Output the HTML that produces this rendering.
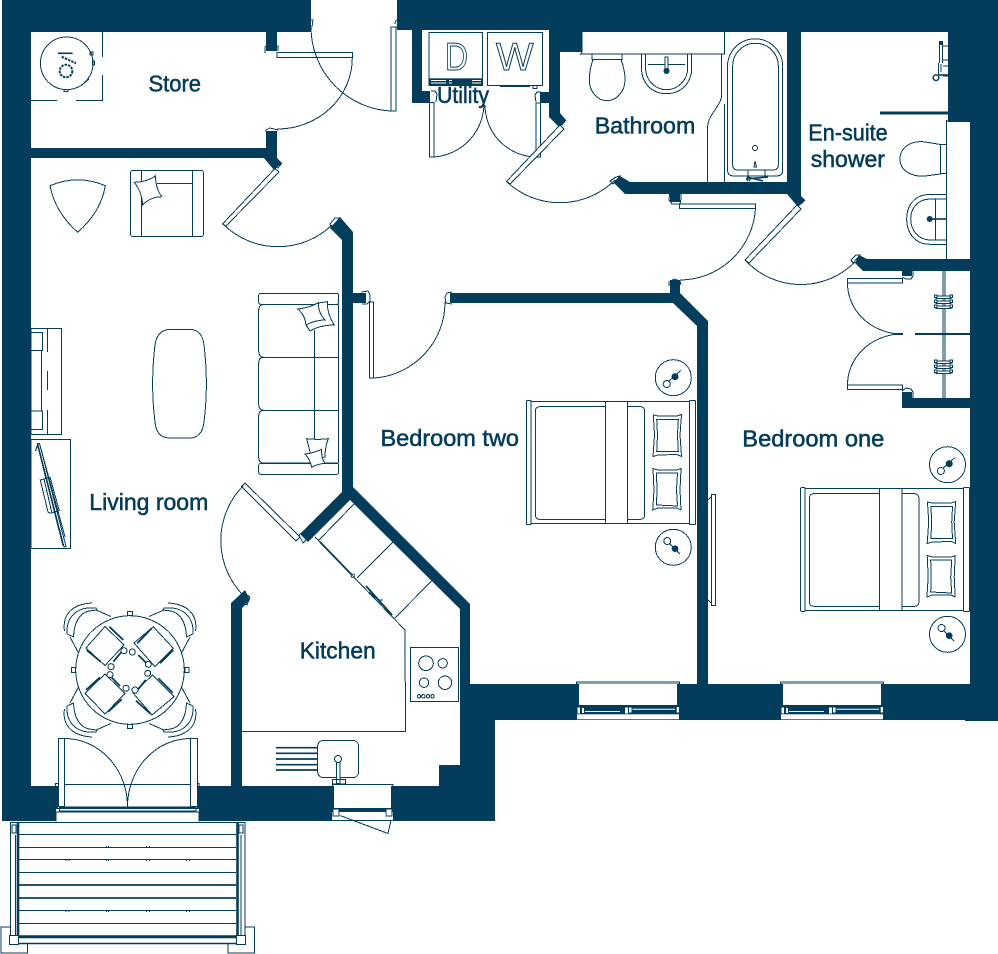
<!DOCTYPE html>
<html><head><meta charset="utf-8"><style>
html,body{margin:0;padding:0;background:#fff}
svg{display:block}
.w{fill:#043c5b;stroke:none}
.l{fill:none;stroke:#043c5b;stroke-width:1;shape-rendering:crispEdges}
.f{fill:#fff;stroke:#043c5b;stroke-width:1;shape-rendering:crispEdges}
.t{fill:#043c5b;stroke:#043c5b;stroke-width:.55;font-family:"Liberation Sans",sans-serif;font-size:23.5px}
.d{fill:#043c5b;stroke:none}
</style></head><body>
<svg width="998" height="954" viewBox="0 0 998 954" xmlns="http://www.w3.org/2000/svg">
<defs>
<g id="bed">
<rect class="f" x="531" y="401.3" width="158.3" height="122"/>
<rect class="f" x="526.5" y="400.5" width="4.5" height="124" rx="1"/>
<rect class="f" x="689.3" y="400.5" width="6.2" height="124" rx="1"/>
<rect class="f" x="535.3" y="406.7" width="109.4" height="112.6" rx="4"/>
<rect class="f" x="605.3" y="401.3" width="22.4" height="122"/>
<path class="l" d="M653.3,415 L658,416 L677,416 L681.5,414.5 L680,435 L681.5,456.5 L677,454.5 L658,455 L653,456.5 L654.5,435Z"/>
<path class="l" d="M656.7,419.5 L678.3,419.5 L677.5,435 L678.3,451.5 L656.7,451.5 L657.5,435Z"/>
<path class="l" d="M653,468.5 L658,470 L677,470 L681,468.5 L680,490 L681,510 L677,508 L658,508 L652.7,510 L654,490Z"/>
<path class="l" d="M656.5,473 L677.5,473 L676.5,490 L677.5,506 L656.5,505 L657,490Z"/>
<circle class="l" cx="673.3" cy="377.7" r="18"/>
<circle class="l" cx="666.7" cy="384" r="3.5"/>
<circle class="d" cx="675" cy="376.7" r="3.5"/>
<path class="l" d="M668.5,381.5 L680.7,370.5" stroke-width="1.5"/>
<circle class="l" cx="673.3" cy="547.3" r="18"/>
<circle class="l" cx="667.3" cy="541" r="3.5"/>
<circle class="d" cx="675" cy="548.7" r="3.3"/>
<path class="l" d="M669.5,543.5 L680,554" stroke-width="1.5"/>
</g>
<g id="win">
<rect x="576.5" y="682" width="103" height="2" class="f"/>
<rect x="579" y="684" width="98" height="21" fill="#fff"/>
<rect x="577" y="714.3" width="102" height="5" fill="#fff"/>
<rect x="577.5" y="707.5" width="2.5" height="6" fill="#fff"/>
<rect x="582" y="708" width="2" height="5" fill="#fff"/>
<rect x="625" y="707.5" width="3" height="6" fill="#fff"/>
<rect x="629" y="707.5" width="2.5" height="5" fill="#fff"/>
<rect x="676.7" y="707" width="2.3" height="5.5" fill="#fff"/>
<path d="M585,711.5 L620,711.5 M632.5,709.3 L675,709.3" stroke="#fff" stroke-width="1" fill="none"/>
</g>
<path id="chair" class="l" d="M64.5,631 C62,615 72,604 92,603 M67,634 C66,618 76,606 96,608 L97,610 L89,611 C80,613 74,622 73.5,637 L67,634 M70,637 L78.5,653 M96,610 L111,616.5"/>
<g id="hang">
<rect class="f" x="936" y="0" width="15" height="2.5"/><rect class="f" x="934.5" y="-1" width="2.5" height="2.5"/><rect class="f" x="950" y="-1" width="2.5" height="2.5"/>
</g>
</defs>

<!-- walls -->
<rect class="w" x="2" y="0" width="309" height="32"/>
<rect class="w" x="2" y="0" width="29" height="821"/>
<rect class="w" x="2" y="786" width="493" height="35"/>
<rect class="w" x="266" y="32" width="11" height="19"/>
<rect class="w" x="266" y="131" width="11" height="30"/>
<rect class="w" x="31" y="148" width="240" height="10"/>
<polygon class="w" points="264,158 277,158 282,163 274,170"/>
<rect class="w" x="397" y="0" width="601" height="30"/>
<rect class="w" x="549" y="28" width="449" height="4"/>
<rect class="w" x="412" y="29" width="10" height="74"/>
<rect class="w" x="412" y="91" width="18" height="12"/>
<polygon class="w" points="549,30 582,30 582,52 560,52 560,113 566,120 559,127 549,117"/>
<rect class="w" x="540" y="92" width="9" height="11"/>
<rect class="w" x="787" y="30" width="14" height="155"/>
<polygon class="w" points="620,176 630,182 787,182 801,182 801,196 805,200 798,207 787,194 625,194 614,183"/>
<rect class="w" x="670" y="194" width="10" height="8"/>
<rect class="w" x="948" y="0" width="50" height="122"/>
<rect class="w" x="970" y="0" width="28" height="721"/>
<rect class="w" x="965" y="684" width="33" height="37"/>
<polygon class="w" points="855,263 859,255 867,259 970,259 970,271 863,271"/>
<rect class="w" x="902" y="271" width="10" height="5"/>
<rect class="w" x="902" y="398" width="68" height="10"/>
<rect class="w" x="902" y="392" width="10" height="6"/>
<polygon class="w" points="330,228 340,217 353,232 353,487 470,604 470,690 460,690 460,609 350,500 308,542 300,534 342,492 342,240"/>
<rect class="w" x="353" y="293" width="13" height="10"/>
<polygon class="w" points="450,293 670,293 670,280 680,280 680,293 708,321 708,690 697,690 697,326 673,303 450,303"/>
<rect class="w" x="460" y="684" width="538" height="36"/>
<rect class="w" x="460" y="720" width="35" height="70"/>
<rect class="w" x="439" y="765" width="22" height="22"/>
<polygon class="w" points="231,603 245,590 250,600 242,608 242,790 231,790"/>

<!-- openings -->
<rect x="58" y="786" width="139" height="22" fill="#fff"/>
<rect x="56" y="809" width="143" height="13" fill="#fff"/>
<rect x="334" y="786" width="57" height="22" fill="#fff"/>
<rect x="332" y="812" width="61" height="8" fill="#fff"/>
<use href="#win"/>
<use href="#win" x="204"/>

<!-- kitchen window -->
<path class="l" d="M332.5,787 L332.5,784.5 L393,784.5 L393,787"/>
<rect x="333" y="809" width="6" height="7" class="f"/>
<rect x="386" y="809" width="6" height="7" class="f"/>
<path class="l" d="M340,815.5 L388,833.5 L391,820"/>
<path d="M340,815 L386,815" stroke="#fff" stroke-width="1"/>

<!-- living doors & threshold -->
<rect class="f" x="58.5" y="738.5" width="5.8" height="68"/>
<rect class="f" x="190.5" y="738.5" width="7" height="68"/>
<path class="l" d="M64.3,738.5 A63,68 0 0 1 127.5,806.5 M190.5,738.5 A63,68 0 0 0 127.5,806.5 M64,784.4 L190.5,784.4 M55.5,786 L55.5,783.5 L58,783.5 M199,786 L199,783.5 L197.5,783.5"/>
<path class="l" d="M59.5,807.5 L196,807.5 L196,811 L59.5,811Z M56,821.5 L56,812 L199,812 L199,821.5 M64.3,807 L190.5,807"/>

<!-- balcony -->
<path class="l" d="M19,822.7 L236,822.7 M10.7,935 L10.7,822.7 L19,822.7 M245,935 L245,822.7 L236,822.7"/>
<path d="M18,823 L18,936 M237.5,823 L237.5,936" stroke="#043c5b" stroke-width="2.6" fill="none"/>
<path d="M15.6,835 L15.6,936 M241,835 L241,936" stroke="#043c5b" stroke-width="1" fill="none" shape-rendering="crispEdges"/>
<rect class="f" x="12" y="825" width="4" height="8"/>
<rect class="f" x="239" y="825" width="4" height="8"/>
<path class="l" d="M19,834.7 L236,834.7 M19,847.5 L236,847.5 M19,859.5 L236,859.5 M19,872.7 L236,872.7 M19,910.7 L236,910.7 M19,923.3 L236,923.3"/>
<path d="M19,885 L236,885 M19,898 L236,898" stroke="#043c5b" stroke-width="1.7"/>
<path d="M19,936.7 L236,936.7" stroke="#043c5b" stroke-width="3"/>
<path d="M19,943.5 L236,943.5" stroke="#043c5b" stroke-width="1.6"/>
<rect class="f" x="9.5" y="935.7" width="9" height="8.6"/>
<rect class="f" x="236.7" y="935.7" width="9" height="8.6"/>
<path class="l" d="M10,927 L1,927 L1,953 L27.5,953 L27.5,944 M228,944 L228,953 L254.5,953 L254.5,927 L245,927"/>
<g class="d">
<rect x="106" y="846" width="1" height="1.5"/><rect x="108" y="846" width="1" height="1.5"/><rect x="146" y="846" width="1" height="1.5"/><rect x="149" y="846" width="1" height="1.5"/>
<rect x="65.5" y="859.5" width="1" height="1.5"/><rect x="68.5" y="859.5" width="1" height="1.5"/><rect x="106" y="859.5" width="1" height="1.5"/><rect x="108" y="859.5" width="1" height="1.5"/><rect x="146" y="859.5" width="1" height="1.5"/><rect x="149" y="859.5" width="1" height="1.5"/><rect x="186" y="859.5" width="1" height="1.5"/><rect x="189" y="859.5" width="1" height="1.5"/>
<rect x="65.5" y="910.5" width="1" height="1.5"/><rect x="68.5" y="910.5" width="1" height="1.5"/><rect x="106" y="910.5" width="1" height="1.5"/><rect x="108" y="910.5" width="1" height="1.5"/><rect x="146" y="910.5" width="1" height="1.5"/><rect x="149" y="910.5" width="1" height="1.5"/><rect x="186" y="910.5" width="1" height="1.5"/><rect x="189" y="910.5" width="1" height="1.5"/>
</g>

<!-- doors -->
<rect class="f" x="277" y="52.7" width="75.5" height="5"/>
<path class="l" d="M352.3,58 A75,71 0 0 1 277,129"/>
<rect class="f" x="391" y="27" width="5" height="84"/>
<path class="l" d="M311,28 A84,84 0 0 0 391,111"/>
<polygon class="f" points="275,168.5 279,172 226,226 222.5,224"/>
<path class="l" d="M223,224 A78,78 0 0 0 332,225"/>
<rect class="f" x="369.5" y="302" width="4" height="76"/>
<path class="l" d="M374,378 A76,76 0 0 0 445,302"/>
<rect class="f" x="429.5" y="102.7" width="4.5" height="54.3"/>
<path class="l" d="M434,157 A54,54 0 0 0 484,104"/>
<rect class="f" x="536" y="103" width="4.7" height="54"/>
<path class="l" d="M536,157 A52,52 0 0 1 485,105"/>
<polygon class="f" points="560,125 564,129 510,184 506.5,181.5"/>
<path class="l" d="M507,182 A78,78 0 0 0 615,180"/>
<rect class="f" x="679.7" y="204" width="76" height="4.5"/>
<path class="l" d="M755.5,208 A76,76 0 0 1 680,280"/>
<polygon class="f" points="797,205 801,209 749,263 745,260"/>
<path class="l" d="M745,260 A76,76 0 0 0 855,262"/>
<rect class="f" x="847.5" y="278.3" width="55" height="4.5"/>
<rect class="f" x="847.5" y="385" width="55" height="4.5"/>
<path class="l" d="M847.5,283 A55,51 0 0 0 899,334 A55,51 0 0 0 847.5,385"/>
<polygon class="f" points="241.5,486.5 245,483 300,537 296,541"/>
<path class="l" d="M243,486 A78,78 0 0 0 245,597"/>
<!-- jambs -->
<path class="l" d="M265,53 L265,47 L268,45 L278,46 L278,51 M266,132 L266,130 L270,128 L278,130 M312,28 L308,28 M312,27 L313,20 L309,20 L308.5,26 M395,27 L398,27 L398,20 L395.5,21 L395,24 M361.5,292 L368,291 L370,295 L370,301 L367,304 L362,304 M452,292 L447,293 L445,297 L446,303 L452,304 M431,91 L435,91 L437,94 L436,102 M541,92 L537,92 L535,95 L536,102 M669.5,194 L669,200 L672,204 L680,204 L681,199 L681,194 M669,286 L669,282 L674,279 L680,281 L681,285 M902,277 L906,279 L911,279 L913,276 L913,271 M902,391 L906,388 L911,389 L913,392 L913,398 M240,602 L244,593 L250,597 L247,605 Z M299,535 L303,532 L308,538 L303,543 Z M335,218 L340,218 L331,228 L330,224 Z M282,163 L278,168 L272,165 M616,177 L620,176 L613,184 L610,181Z M566,120 L562,125 L558,122 M805,200 L801,204 L796,201 M856,255 L860,255 L853,263 L851,260Z"/>

<!-- kitchen units -->
<path class="l" d="M315,537 L405,630 L405.5,731.7 L242,731.7 M319,540 L354,504 M357,578 L393,542 M395,618 L431.5,581"/>
<path d="M320,542 L352,575 M366,586 L392,615" stroke="#043c5b" stroke-width="1.8" fill="none"/>
<circle class="l" cx="353" cy="576" r="1.8"/>
<path class="l" d="M369,592 L378,600 L383,600" stroke-width="1.2"/>
<rect class="l" x="410.3" y="647.3" width="48.4" height="54.4" rx="1"/>
<circle class="l" cx="426" cy="663.3" r="7.3"/><circle class="l" cx="442.7" cy="663.3" r="4.7"/>
<circle class="l" cx="424" cy="682.7" r="4.7"/><circle class="l" cx="445" cy="682.7" r="6.7"/>
<circle class="l" cx="419" cy="696.3" r="1.7"/><circle class="l" cx="423.3" cy="696.3" r="1.7"/><circle class="l" cx="428" cy="696.3" r="1.7"/><circle class="l" cx="432.5" cy="696.3" r="1.7"/>
<rect class="l" x="317.7" y="740.3" width="41" height="37.4" rx="6"/>
<path d="M276,747.7 L318,747.7 M276,753.3 L318,753.3 M276,759 L318,759 M276,764.7 L318,764.7 M276,770 L318,770" stroke="#043c5b" stroke-width="1.7"/>
<circle class="f" cx="338" cy="759" r="3.5"/>
<rect class="f" x="336.5" y="762.5" width="3.5" height="21"/>
<rect class="l" x="332.5" y="779.5" width="13" height="4.5"/>

<!-- living furniture -->
<rect class="l" x="130.7" y="170.3" width="72.6" height="66.4" rx="2"/>
<path class="l" d="M141.7,170.3 L141.7,236.7 M192.3,170.3 L192.3,236.7 M157,183.7 L192.3,183.7"/>
<path class="f" d="M134.3,182.3 Q147,182 155.7,175.7 Q155,187 161.7,196.7 Q150,197 142.7,205 Q142,192 134.3,182.3Z"/>
<path class="l" d="M50,185.7 Q77.7,174 105.3,185.7 Q101,212 77.7,232.3 Q55,212 50,185.7Z"/>
<circle class="l" cx="66.7" cy="63.3" r="26.3"/>
<path class="l" d="M31,100.3 L57,100.3 M76,100.3 L102.7,100.3 L102.7,75 M102.7,57 L102.7,32"/>
<path d="M58,53.3 L72.7,53.3" stroke="#043c5b" stroke-width="1.6"/>
<path d="M61.7,56.7 L76,63.3" stroke="#043c5b" stroke-width="2" stroke-dasharray="2.5 1"/>
<circle cx="66" cy="71" r="6.3" fill="none" stroke="#043c5b" stroke-width="2" stroke-dasharray="2.5 1"/>
<rect class="l" x="90" y="52" width="3" height="3"/><rect class="l" x="92.5" y="61" width="2" height="4"/><rect class="l" x="64" y="89.5" width="4" height="2"/>
<path class="l" d="M82,85 L89,79"/>

<rect class="l" x="258.7" y="293.3" width="80" height="11" rx="2"/>
<rect class="l" x="258.7" y="463.3" width="80" height="11" rx="2"/>
<path class="l" d="M338.7,304.5 L264,304.5 Q258.7,304.5 258.7,310 L258.7,351 Q258.7,357.3 264,357.3 L338.7,357.3 M264,357.3 Q258.7,357.3 258.7,363 L258.7,404 Q258.7,410.3 264,410.3 L338.7,410.3 M264,410.3 Q258.7,410.3 258.7,416 L258.7,457 Q258.7,463 264,463 L338.7,463 M338.7,304.5 L338.7,463 M314.7,330 L314.7,440"/>
<path class="f" d="M318.3,303 L327.3,301.7 Q327,314 334.3,325 Q320,325 310,331 L306,325Z"/>
<path class="f" d="M297.7,309 Q309,308 318.3,302.7 Q318,312 325,320 Q315,320 306,325 Q305,315 297.7,309Z"/>
<path class="f" d="M306.7,438.7 Q318,440 328.3,438.7 Q325,447 325,457 L312,460 Q309,448 306.7,438.7Z"/>
<path class="f" d="M305,454 Q314,453 321.7,449.3 Q321,458 325,463.3 Q317,464 311.7,467.3 Q310,459 305,454Z"/>
<path class="l" d="M170,329.5 L190,329.5 C200,329.5 203,337 204,345 C207,370 207,398 204,422 C203,432 198,438 190,438 L170,438 C160,438 156,432 155,422 C152,398 152,370 155,345 C156,337 160,329.5 170,329.5Z"/>
<rect class="l" x="31" y="328.3" width="30.7" height="106"/>
<path class="l" d="M47.3,328.3 L47.3,352 M47.3,371 L47.3,390 M47.3,410 L47.3,434.3 M31,332.3 L42.7,332.3 L42.7,350.7 L31,350.7 M31,411 L42.7,411 L42.7,429.3 L31,429.3 M41.7,350.7 L41.7,411"/>
<rect class="l" x="31" y="439.3" width="39.7" height="109"/>
<path class="l" d="M37.7,443.5 L39.5,443.5 L66,546.5 L64,547 Z M35.5,451 L37.5,445 L63,546 M39.5,443.5 L65,537"/>
<path class="l" d="M40.3,480 L44,479 L50,477.3 L59.3,510.7 L50,513.3 L48,512 Z M44,479 L52,513"/>

<!-- table -->
<circle class="l" cx="130" cy="670" r="54.3"/>
<rect class="f" x="127.5" y="611.5" width="5" height="4"/><rect class="f" x="127.5" y="724.5" width="5" height="4"/>
<rect class="f" x="71.5" y="667.5" width="4" height="5"/><rect class="f" x="185" y="667.5" width="4" height="5"/>
<use href="#chair"/>
<use href="#chair" transform="matrix(-1 0 0 1 260 0)"/>
<use href="#chair" transform="matrix(1 0 0 -1 0 1340)"/>
<use href="#chair" transform="matrix(-1 0 0 -1 260 1340)"/>
<path class="l" d="M105,626.5 L124,645 L105,665.5 L86,648Z M153.3,626.7 L173.3,648.3 L155,666.7 L134,643Z M105,674 L125,693.3 L105,714 L85,693.3Z M152.7,675 L174,696.7 L152,715 L133,693Z"/>
<path d="M109.3,626.7 L123.3,640 M86.7,650 L100.7,661.7 M113.3,661.7 L121.7,651.7 M137.3,643.3 L151.7,628.3 M160,663.3 L173.3,650 M138.3,655 L150,666.7 M86,690 L100,677.3 M108.3,711.7 L121.7,699.3 M108.3,674 L120,686 M135,693.3 L145.7,680 M158.3,678.3 L172.7,692.7 M136,700.7 L150.7,714" stroke="#043c5b" stroke-width="1.8" fill="none"/>
<circle class="f" cx="124" cy="650.7" r="3"/><circle class="f" cx="132.3" cy="652" r="3"/><circle class="f" cx="111" cy="666.7" r="3"/><circle class="f" cx="148.3" cy="664.3" r="3"/><circle class="f" cx="110" cy="674.7" r="3"/><circle class="f" cx="147.7" cy="673.3" r="3"/><circle class="f" cx="126" cy="688.3" r="3"/><circle class="f" cx="135" cy="690" r="3"/>

<!-- bedrooms -->
<use href="#bed"/>
<use href="#bed" x="274.2" y="87"/>
<rect class="f" x="711.3" y="494.3" width="4.4" height="111.4"/>
<path class="l" d="M708,500 L711,497 M708,600 L711,603"/>

<!-- utility -->
<rect class="f" x="429" y="32.3" width="53.7" height="53.4"/>
<rect class="d" x="429" y="78.3" width="53.7" height="7.4"/>
<path d="M431,80.5 L446,80.5 M449,80.5 L452,80.5 M472,80.5 L481,80.5 M431,83 L446,83 M449,83 L452,83 M472,83 L481,83" stroke="#fff" stroke-width=".9"/>
<rect class="f" x="487.3" y="32.3" width="55.4" height="53.4"/>
<path class="l" d="M500,86.5 L530,86.5 M533,86 L533,88.5 L537,88.5 L537,86"/>
<text x="445" y="70" font-family="Liberation Sans,sans-serif" font-size="39" fill="#fff" stroke="#043c5b" stroke-width="1" textLength="23" lengthAdjust="spacingAndGlyphs">D</text>
<text x="496" y="70" font-family="Liberation Sans,sans-serif" font-size="39" fill="#fff" stroke="#043c5b" stroke-width="1" textLength="37.5" lengthAdjust="spacingAndGlyphs">W</text>

<!-- bathroom -->
<path class="l" d="M582,32 L582,52 L580.5,54 L724.7,54 L724.7,32"/>
<path class="l" d="M592,54 L592,60 M622,54 L622,60 M593,59.5 L621,59.5 Q625,70 625,80 C625,92 616,100.7 607,100.7 C598,100.7 589.3,92 589.3,80 Q589.3,70 593,59.5Z"/>
<path class="l" d="M641.5,54 L641.5,68 C641.5,83 652,93.7 666.5,93.7 C681,93.7 691.7,83 691.7,68 L691.7,54 M645.5,54 L645.5,68 C645.5,80 655,89.7 666.5,89.7 C678,89.7 687.7,80 687.7,68 L687.7,54 M648,64.7 L685,64.7"/>
<rect class="f" x="665" y="57" width="3" height="12"/>
<circle class="d" cx="666.5" cy="71" r="3"/>
<path class="l" d="M721.7,54 L721.7,95 C721.7,105 708,115 707.7,126 L707.7,182 M724.5,104 L724.5,182"/>
<path class="l" d="M727.5,66.4 A27.6,27.6 0 0 1 782.7,66.4 L782.7,170 Q782.7,176 776,176 L734,176 Q727.5,176 727.5,170Z"/>
<path class="l" d="M732.7,66 A22.8,22.8 0 0 1 778.3,66 L778.3,165 Q778.3,170 773,170 L738,170 Q732.7,170 732.7,165Z"/>
<circle class="l" cx="755" cy="148" r="2.5"/>
<path class="l" d="M754,167 L755,161 L756.5,167 Z M748,170 L765,170 L765,176 L748,176Z"/>
<path d="M746,179 L768,177 M747,177 L763,181" stroke="#043c5b" stroke-width="1.6"/>
<circle class="l" cx="748.5" cy="179" r="1.8"/>

<!-- en-suite -->
<path class="l" d="M946.3,120 L946.3,259 M946.3,121 L948,121"/>
<path class="l" d="M940.7,144.5 L925,142 C912,140 900,147 900,159 C900,171 912,177 925,176 L940.7,174 Z M940.7,144.5 L946,144.5 M940.7,173.7 L946,173.7"/>
<path class="l" d="M946,194.5 L930,194.5 C915,194.5 906.7,205 906.7,219 C906.7,233 915,244.3 930,244.3 L946,244.3 M946,199 L931,199 C918,199 910.7,208 910.7,219 C910.7,230 918,240 931,240 L946,240 M935.7,199 L935.7,240"/>
<circle class="d" cx="929.7" cy="219" r="3"/>
<path d="M932,219 L946,219" stroke="#043c5b" stroke-width="1.6"/>
<path d="M880,113 L948,113" stroke="#043c5b" stroke-width="3"/>
<rect class="d" x="939" y="41" width="4" height="4"/>
<path class="l" d="M939.5,45 L939.5,63 M942.5,45 L942.5,63 M938.5,63 L938.5,75 M941,64 L941,72 M943,46 L948,46 M943,60 L948,60 M943,66 L948,66 M943,76 L948,76"/>
<circle cx="936" cy="77.7" r="2.8" fill="none" stroke="#043c5b" stroke-width="1.5"/>
<path d="M939,75 L948,75" stroke="#043c5b" stroke-width="1.6"/>

<!-- wardrobe -->
<path class="l" d="M942.8,271 L942.8,398 M945,271 L945,398"/>
<path d="M915,334 L970,334 M894,334 L903,334" stroke="#043c5b" stroke-width="2"/>
<use href="#hang" y="296"/><use href="#hang" y="301"/><use href="#hang" y="306"/>
<use href="#hang" y="361"/><use href="#hang" y="366"/><use href="#hang" y="371"/>

<!-- labels -->
<text class="t" x="148.5" y="91.5" textLength="52.5" lengthAdjust="spacingAndGlyphs">Store</text>
<text class="t" x="437" y="103" textLength="52" lengthAdjust="spacingAndGlyphs">Utility</text>
<text class="t" x="594.7" y="133.7" textLength="100.6" lengthAdjust="spacingAndGlyphs">Bathroom</text>
<text class="t" x="808.3" y="140.7" textLength="79.4" lengthAdjust="spacingAndGlyphs">En-suite</text>
<text class="t" x="810.7" y="167" textLength="74.3" lengthAdjust="spacingAndGlyphs">shower</text>
<text class="t" x="89.3" y="510" textLength="119" lengthAdjust="spacingAndGlyphs">Living room</text>
<text class="t" x="380.5" y="446" textLength="138.5" lengthAdjust="spacingAndGlyphs">Bedroom two</text>
<text class="t" x="742.3" y="446.7" textLength="142" lengthAdjust="spacingAndGlyphs">Bedroom one</text>
<text class="t" x="299.7" y="658.7" textLength="76" lengthAdjust="spacingAndGlyphs">Kitchen</text>
</svg>
</body></html>
